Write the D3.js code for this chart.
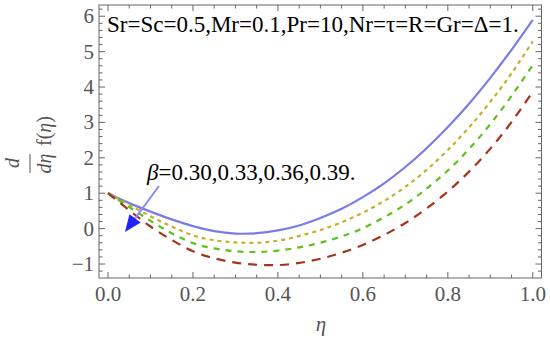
<!DOCTYPE html>
<html><head><meta charset="utf-8">
<script src="https://cdn.jsdelivr.net/npm/d3@7"></script>
<style>body{margin:0;background:#fff}svg{display:block}</style>
</head><body>
<svg id="c" width="550" height="343" font-family="Liberation Serif"></svg>
<script>
// Data
const eta    = [0,0.05,0.1,0.15,0.2,0.25,0.3,0.35,0.4,0.45,0.5,0.55,0.6,0.65,0.7,0.75,0.8,0.85,0.9,0.95,1.0];
const beta030 = [1.0,0.72,0.48,0.26,0.07,-0.07,-0.14,-0.13,-0.05,0.09,0.30,0.56,0.89,1.28,1.74,2.27,2.87,3.53,4.26,5.05,5.9];
const beta033 = [1.0,0.67,0.35,0.06,-0.19,-0.33,-0.39,-0.40,-0.34,-0.21,-0.04,0.18,0.45,0.78,1.18,1.66,2.22,2.86,3.58,4.39,5.29];
const beta036 = [1.0,0.61,0.22,-0.13,-0.41,-0.56,-0.64,-0.66,-0.62,-0.53,-0.40,-0.22,0.01,0.32,0.68,1.13,1.64,2.25,2.95,3.75,4.62];
const beta039 = [1.0,0.52,0.06,-0.32,-0.64,-0.84,-0.96,-1.02,-1.03,-0.97,-0.85,-0.68,-0.46,-0.18,0.16,0.57,1.05,1.61,2.26,3.01,3.87];
const xTicks = [0,0.2,0.4,0.6,0.8,1.0];
const yTicks = [-1,0,1,2,3,4,5,6];
const topText = "Sr=Sc=0.5,Mr=0.1,Pr=10,Nr=τ=R=Gr=Δ=1.";
const betaText = "=0.30,0.33,0.36,0.39.";

const series = [
  {v: beta030, color: "#7b7bea", dash: null},
  {v: beta033, color: "#c9ae2e", dash: "4,4"},
  {v: beta036, color: "#5bc21e", dash: "6,6"},
  {v: beta039, color: "#a5341a", dash: "9,7"}
];

const svg = d3.select("#c");
const L = 99, R = 541.5, T = 5, B = 278;
const x = d3.scaleLinear().domain([-0.0212, 1.0205]).range([L, R]);
const y = d3.scaleLinear().domain([-1.395, 6.317]).range([B, T]);
const gray = "#666";

svg.append("clipPath").attr("id","clip").append("rect")
  .attr("x",L).attr("y",T).attr("width",R-L).attr("height",B-T);

// frame
svg.append("rect").attr("x",L).attr("y",T).attr("width",R-L).attr("height",B-T)
  .attr("fill","none").attr("stroke",gray).attr("stroke-width",1);

const xMinor = d3.range(0, 1.0001, 0.05);
const yMinor = d3.range(-1.2, 6.2001, 0.2);
const isMaj = (v, arr) => arr.some(t => Math.abs(t - v) < 1e-6);

xMinor.forEach(t => {
  const len = isMaj(t, xTicks) ? 6 : 3.5;
  svg.append("line").attr("x1",x(t)).attr("x2",x(t)).attr("y1",B).attr("y2",B-len).attr("stroke",gray);
  svg.append("line").attr("x1",x(t)).attr("x2",x(t)).attr("y1",T).attr("y2",T+len).attr("stroke",gray);
});
yMinor.forEach(t => {
  if (y(t) < T || y(t) > B) return;
  const len = isMaj(t, yTicks) ? 6 : 3.5;
  svg.append("line").attr("y1",y(t)).attr("y2",y(t)).attr("x1",L).attr("x2",L+len).attr("stroke",gray);
  svg.append("line").attr("y1",y(t)).attr("y2",y(t)).attr("x1",R).attr("x2",R-len).attr("stroke",gray);
});

// tick labels
svg.selectAll(".xl").data(xTicks).enter().append("text")
  .attr("x", d => x(d)).attr("y", 301).attr("text-anchor","middle")
  .attr("font-size", 21).attr("fill","#555")
  .text(d => d3.format(".1f")(d));
svg.selectAll(".yl").data(yTicks).enter().append("text")
  .attr("x", 94).attr("y", d => y(d) + 7).attr("text-anchor","end")
  .attr("font-size", 21).attr("fill","#555")
  .text(d => d < 0 ? "\u2212" + Math.abs(d) : d);

// axis labels
svg.append("text").attr("x", 321).attr("y", 331).attr("text-anchor","middle")
  .attr("font-size", 21).attr("font-style","italic").attr("fill","#555").text("η");

const yl = svg.append("g").attr("transform","rotate(-90)").attr("fill","#555").attr("font-size",20);
yl.append("text").attr("x",-163).attr("y",19).attr("text-anchor","middle").attr("font-style","italic").text("d");
yl.append("line").attr("x1",-173).attr("x2",-154).attr("y1",30).attr("y2",30).attr("stroke","#555").attr("stroke-width",1);
yl.append("text").attr("x",-163.5).attr("y",51).attr("text-anchor","middle").attr("font-style","italic").text("dη");
yl.append("text").attr("x",-146).attr("y",51).attr("text-anchor","start").html('f(<tspan font-style="italic">η</tspan>)');

// curves
const line = d3.line().x((d,i) => x(eta[i])).y(d => y(d)).curve(d3.curveNatural);
const g = svg.append("g").attr("clip-path","url(#clip)");
series.forEach(s => {
  g.append("path").attr("d", line(s.v)).attr("fill","none")
    .attr("stroke", s.color).attr("stroke-width", 2.2)
    .attr("stroke-dasharray", s.dash);
});

// texts
svg.append("text").attr("x",107).attr("y",32).attr("font-size",23).attr("fill","#000").text(topText);
svg.append("text").attr("x",147).attr("y",180).attr("font-size",23).attr("fill","#000")
  .html('<tspan font-style="italic">β</tspan>' + betaText);

// arrow
const ax1 = 159, ay1 = 186, ax2 = 125, ay2 = 232;
const ang = Math.atan2(ay2-ay1, ax2-ax1);
const hl = 17, hw = 7;
const bx = ax2 - hl*Math.cos(ang), by = ay2 - hl*Math.sin(ang);
svg.append("line").attr("x1",ax1).attr("y1",ay1).attr("x2",bx).attr("y2",by).attr("stroke","#8a8af0").attr("stroke-width",2);
svg.append("path").attr("d", d3.line()([
  [ax2, ay2],
  [bx + hw*Math.sin(ang), by - hw*Math.cos(ang)],
  [bx - hw*Math.sin(ang), by + hw*Math.cos(ang)]
])+"Z").attr("fill","#2222ff");
</script>
</body></html>
